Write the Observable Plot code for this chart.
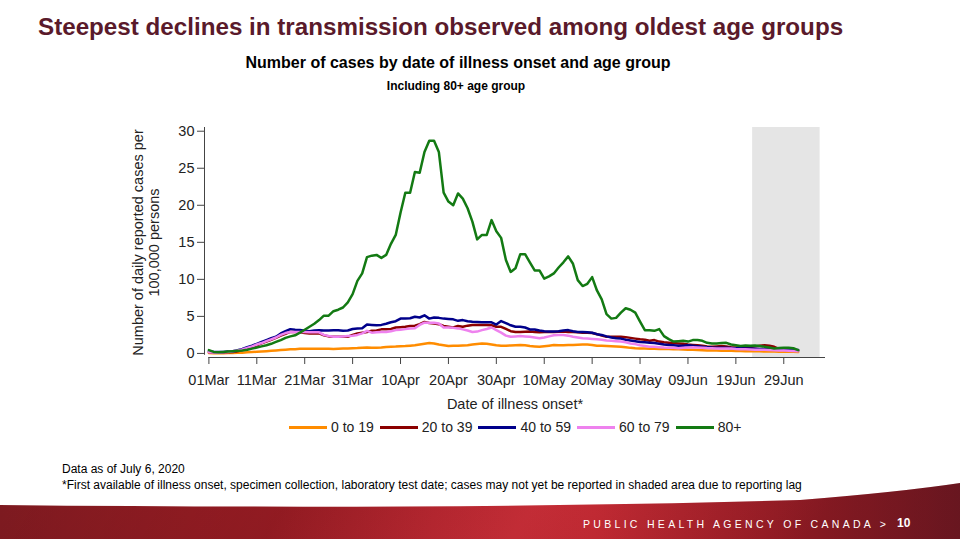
<!DOCTYPE html>
<html>
<head>
<meta charset="utf-8">
<script src="https://cdn.jsdelivr.net/npm/d3@7"></script>
<script src="https://cdn.jsdelivr.net/npm/@observablehq/plot@0.6"></script>
<style>
  html, body { margin: 0; padding: 0; background: #fff; }
  #page { position: relative; width: 960px; height: 539px; overflow: hidden; font-family: "Liberation Sans", Arial, sans-serif; }
  #chart { position: absolute; left: 0; top: 0; }
  .abs { position: absolute; white-space: nowrap; }
  #title { left: 38px; top: 13px; font-size: 24.2px; font-weight: bold; color: #5a1a2b; }
  #subtitle { left: 0; width: 916px; text-align: center; top: 54px; font-size: 16px; font-weight: bold; color: #000; }
  #subsub { left: 0; width: 912px; text-align: center; top: 79px; font-size: 12px; font-weight: bold; color: #000; }
  #legend { top: 419px; left: 289px; display: flex; align-items: center; font-size: 14px; color: #222; }
  #legend .item { display: flex; align-items: center; margin-right: 6px; }
  #legend .sw { width: 38px; height: 3px; margin-right: 4px; }
  .note { left: 62px; font-size: 12px; color: #000; }
  #banner { left: 0; top: 480px; width: 960px; height: 59px;
    background: linear-gradient(90deg, #7e1a20 0%, #9a1d24 20%, #b8202a 45%, #c4222c 62%, #a81e28 80%, #7a1a25 100%);
    clip-path: path('M0,25 Q480,30 800,20 Q900,12 960,3 L960,59 L0,59 Z'); }
  #banner2 { left: 0; top: 480px; width: 960px; height: 59px;
    background: linear-gradient(120deg, rgba(0,0,0,0) 0%, rgba(0,0,0,0.12) 30%, rgba(255,255,255,0.05) 55%, rgba(0,0,0,0.15) 85%);
    clip-path: path('M0,25 Q480,30 800,20 Q900,12 960,3 L960,59 L0,59 Z'); }
  #agency { left: 583px; top: 518px; font-size: 10.5px; letter-spacing: 3.3px; color: #fff; }
  #pageno { left: 897px; top: 516px; font-size: 12px; font-weight: bold; color: #fff; }
</style>
</head>
<body>
<div id="page">
  <div id="chart"></div>
  <div id="title" class="abs"></div>
  <div id="subtitle" class="abs"></div>
  <div id="subsub" class="abs"></div>
  <div id="legend" class="abs"></div>
  <div id="note1" class="abs note" style="top:462px"></div>
  <div id="note2" class="abs note" style="top:478px"></div>
  <div id="banner" class="abs"></div>
  <div id="banner2" class="abs"></div>
  <div id="agency" class="abs"></div>
  <div id="pageno" class="abs"></div>
</div>
<script>
// ---- Text ----
const titleText = "Steepest declines in transmission observed among oldest age groups";
const subtitleText = "Number of cases by date of illness onset and age group";
const subsubText = "Including 80+ age group";
const yLabel = "Number of daily reported cases per\n100,000 persons";
const xLabel = "Date of illness onset*";
const note1 = "Data as of July 6, 2020";
const note2 = "*First available of illness onset, specimen collection, laboratory test date; cases may not yet be reported in shaded area due to reporting lag";
const agencyText = "PUBLIC HEALTH AGENCY OF CANADA >";
const pageNumber = "10";

// ---- Categories ----
const groups = ["0 to 19", "20 to 39", "40 to 59", "60 to 79", "80+"];
const groupColors = ["#ff8c00", "#8b0000", "#00008b", "#ee82ee", "#137a13"];

// ---- Dates: daily from 01Mar2020 (index 0) ----
const firstDate = "2020-03-01";
const tickDates = ["2020-03-01","2020-03-11","2020-03-21","2020-03-31","2020-04-10","2020-04-20","2020-04-30","2020-05-10","2020-05-20","2020-05-30","2020-06-09","2020-06-19","2020-06-29"];
const shadedStart = "2020-06-22T12:00";
const shadedEnd = "2020-07-06T14:00";
const xDomain = ["2020-02-29T02:00", "2020-07-07T17:00"];
const yTicks = [0, 5, 10, 15, 20, 25, 30];

// ---- Series values (cases per 100,000, daily) ----
const age0to19 = [
  0.05, 0.03, 0.03, 0.04, 0.05,
  0.06, 0.08, 0.10, 0.15, 0.18,
  0.22, 0.26, 0.30, 0.35, 0.40,
  0.45, 0.50, 0.55, 0.58, 0.62,
  0.62, 0.63, 0.62, 0.64, 0.63,
  0.62, 0.60, 0.62, 0.65, 0.67,
  0.70, 0.72, 0.78, 0.80, 0.76,
  0.75, 0.80, 0.88, 0.90, 0.92,
  0.98, 1.00, 1.05, 1.10, 1.20,
  1.30, 1.40, 1.35, 1.20, 1.10,
  1.00, 1.02, 1.05, 1.08, 1.10,
  1.20, 1.28, 1.35, 1.30, 1.20,
  1.10, 1.05, 1.04, 1.08, 1.10,
  1.13, 1.10, 1.00, 0.95, 0.90,
  0.98, 1.05, 1.13, 1.12, 1.10,
  1.13, 1.15, 1.18, 1.20, 1.20,
  1.15, 1.05, 1.02, 1.00, 0.98,
  0.95, 0.90, 0.82, 0.75, 0.70,
  0.68, 0.66, 0.64, 0.62, 0.60,
  0.60, 0.60, 0.58, 0.55, 0.52,
  0.50, 0.48, 0.45, 0.42, 0.40,
  0.40, 0.38, 0.36, 0.35, 0.35,
  0.33, 0.32, 0.30, 0.30, 0.28,
  0.28, 0.26, 0.25, 0.25, 0.24,
  0.24, 0.22, 0.22, 0.20
];
const age20to39 = [
  0.15, 0.12, 0.12, 0.14, 0.16,
  0.20, 0.30, 0.45, 0.65, 0.85,
  1.10, 1.35, 1.60, 1.85, 2.10,
  2.40, 2.65, 2.90, 2.88, 2.85,
  2.75, 2.70, 2.70, 2.70, 2.45,
  2.30, 2.25, 2.25, 2.25, 2.25,
  2.50, 2.70, 2.80, 2.90, 3.05,
  3.10, 3.25, 3.25, 3.30, 3.50,
  3.55, 3.60, 3.70, 3.75, 3.95,
  4.25, 4.10, 4.05, 3.95, 3.70,
  3.60, 3.50, 3.70, 3.60, 3.75,
  3.85, 3.85, 3.85, 3.85, 3.80,
  3.60, 3.60, 3.30, 3.00, 2.90,
  2.90, 2.92, 2.95, 2.90, 2.85,
  2.88, 2.90, 2.90, 2.92, 2.95,
  2.90, 2.88, 2.85, 2.80, 2.80,
  2.75, 2.60, 2.40, 2.25, 2.25,
  2.25, 2.25, 2.20, 2.10, 2.00,
  1.90, 1.85, 1.70, 1.80, 1.60,
  1.50, 1.45, 1.40, 1.35, 1.30,
  1.20, 1.15, 1.10, 1.05, 0.95,
  0.90, 0.95, 1.00, 0.95, 0.85,
  0.80, 0.80, 0.80, 0.85, 0.95,
  1.05, 1.10, 1.05, 0.90, 0.60,
  0.50, 0.45, 0.42, 0.35
];
const age40to59 = [
  0.30, 0.20, 0.18, 0.20, 0.25,
  0.30, 0.45, 0.60, 0.85, 1.05,
  1.30, 1.55, 1.80, 2.05, 2.25,
  2.70, 3.00, 3.28, 3.20, 3.15,
  3.05, 3.00, 3.10, 3.14, 3.10,
  3.10, 3.12, 3.14, 3.05, 3.10,
  3.30, 3.37, 3.40, 3.90, 3.85,
  3.80, 3.85, 4.00, 4.20, 4.35,
  4.70, 4.70, 4.75, 4.95, 4.85,
  5.15, 4.70, 4.85, 4.80, 4.70,
  4.65, 4.60, 4.40, 4.50, 4.35,
  4.28, 4.25, 4.22, 4.20, 4.20,
  3.90, 4.37, 4.10, 3.80, 3.60,
  3.60, 3.50, 3.24, 3.24, 3.10,
  3.00, 2.95, 2.95, 3.00, 3.10,
  3.15, 3.00, 2.90, 2.88, 2.85,
  2.80, 2.60, 2.50, 2.30, 2.15,
  2.05, 2.00, 1.85, 1.75, 1.65,
  1.55, 1.50, 1.45, 1.40, 1.30,
  1.20, 1.15, 1.10, 1.05, 1.05,
  1.10, 1.05, 0.98, 0.90, 0.85,
  0.80, 0.78, 0.76, 0.75, 0.72,
  0.70, 0.70, 0.67, 0.65, 0.62,
  0.60, 0.58, 0.55, 0.52, 0.50,
  0.48, 0.47, 0.46, 0.45
];
const age60to79 = [
  0.15, 0.12, 0.12, 0.15, 0.20,
  0.28, 0.40, 0.55, 0.75, 0.95,
  1.20, 1.40, 1.65, 1.90, 2.15,
  2.50, 2.75, 2.90, 2.90, 2.90,
  2.88, 2.85, 2.85, 2.85, 2.50,
  2.35, 2.25, 2.25, 2.30, 2.35,
  2.40, 2.50, 2.70, 3.05, 2.80,
  2.85, 2.90, 2.90, 3.00, 3.15,
  3.20, 3.28, 3.35, 3.40, 3.85,
  4.15, 4.15, 4.15, 4.05, 3.50,
  3.50, 3.45, 3.38, 3.25, 3.10,
  2.90, 2.95, 3.15, 3.30, 3.50,
  3.15, 2.80, 2.40, 2.25, 2.30,
  2.35, 2.30, 2.25, 2.15, 2.05,
  2.16, 2.30, 2.45, 2.48, 2.48,
  2.40, 2.25, 2.16, 2.05, 2.00,
  1.95, 1.90, 1.85, 1.75, 1.70,
  1.65, 1.60, 1.50, 1.35, 1.26,
  1.10, 1.00, 0.90, 0.90, 0.85,
  0.80, 0.77, 0.75, 0.70, 0.75,
  0.80, 0.85, 0.80, 0.76, 0.72,
  0.70, 0.68, 0.67, 0.66, 0.65,
  0.60, 0.57, 0.55, 0.52, 0.50,
  0.50, 0.48, 0.45, 0.42, 0.40,
  0.38, 0.35, 0.32, 0.30
];
const age80plus = [
  0.45, 0.20, 0.15, 0.20, 0.25,
  0.30, 0.35, 0.40, 0.50, 0.65,
  0.80, 0.95, 1.10, 1.30, 1.55,
  1.80, 2.10, 2.30, 2.45, 2.80,
  3.20, 3.60, 4.00, 4.50, 5.10,
  5.10, 5.70, 5.90, 6.20, 6.90,
  8.00, 9.80, 10.80, 13.00, 13.20,
  13.30, 12.90, 13.30, 14.80, 16.00,
  19.00, 21.70, 21.70, 24.50, 24.40,
  27.20, 28.70, 28.70, 27.20, 21.70,
  20.50, 20.00, 21.60, 20.90, 19.60,
  17.80, 15.40, 16.00, 16.00, 18.00,
  16.50, 15.60, 12.60, 11.00, 11.50,
  13.40, 13.40, 12.30, 11.20, 11.20,
  10.10, 10.40, 10.80, 11.60, 12.30,
  13.10, 12.10, 9.90, 9.10, 9.40,
  10.30, 8.50, 7.30, 5.30, 4.70,
  4.80, 5.50, 6.10, 5.90, 5.50,
  4.30, 3.14, 3.14, 3.05, 3.28,
  2.33, 1.93, 1.60, 1.65, 1.70,
  1.60, 1.80, 1.80, 1.70, 1.43,
  1.35, 1.35, 1.40, 1.43, 1.20,
  1.10, 1.00, 1.07, 1.05, 1.07,
  1.00, 0.90, 0.80, 0.67, 0.72,
  0.76, 0.76, 0.70, 0.45
];

const seriesValues = [age0to19, age20to39, age40to59, age60to79, age80plus];
const start = new Date(firstDate + "T00:00Z");
const rows = [];
groups.forEach((g, gi) => {
  seriesValues[gi].forEach((v, i) => {
    rows.push({date: d3.utcDay.offset(start, i), value: v, group: g});
  });
});
const toDate = s => new Date(s + (s.length === 10 ? "T00:00Z" : "Z"));
const ticks = tickDates.map(toDate);
const fmt = d3.utcFormat("%d%b");

const chart = Plot.plot({
  width: 960,
  height: 539,
  marginLeft: 204,
  marginRight: 135,
  marginTop: 127,
  marginBottom: 182,
  style: {fontFamily: "'Liberation Sans', Arial, sans-serif", fontSize: "14.5px", color: "#222", background: "transparent"},
  x: {type: "utc", domain: xDomain.map(toDate)},
  y: {domain: [-0.55, 30.5]},
  color: {domain: groups, range: groupColors},
  marks: [
    Plot.rect([{x1: toDate(shadedStart), x2: toDate(shadedEnd)}], {x1: "x1", x2: "x2", fill: "#e5e5e5"}),
    Plot.ruleX([xDomain[0]].map(toDate), {y1: -0.25, y2: 30.5, stroke: "#444", strokeWidth: 1}),
    Plot.ruleY([-0.55], {x1: ticks[0], x2: toDate(xDomain[1]), stroke: "#444", strokeWidth: 1}),
    Plot.axisX({ticks: ticks, tickFormat: fmt, tickSize: 7, tickPadding: 10, label: null, stroke: "#444", fontSize: 14.5, color: "#222"}),
    Plot.axisY({ticks: yTicks, tickSize: 7, tickPadding: 3, label: null, stroke: "#444", fontSize: 14.5}),
    Plot.line(rows, {x: "date", y: "value", z: "group", stroke: "group", strokeWidth: 2.5, strokeLinejoin: "round"}),
    Plot.text([yLabel], {text: d => d, frameAnchor: "left", rotate: -90, dx: -59, textAnchor: "middle", lineAnchor: "middle", fontSize: 14.5, lineHeight: 1.15, fill: "#222"}),
    Plot.text([xLabel], {text: d => d, frameAnchor: "bottom", dy: 51, fontSize: 14.5, fill: "#222"})
  ]
});
document.getElementById("chart").appendChild(chart);

document.getElementById("title").textContent = titleText;
document.getElementById("subtitle").textContent = subtitleText;
document.getElementById("subsub").textContent = subsubText;
document.getElementById("note1").textContent = note1;
document.getElementById("note2").textContent = note2;
document.getElementById("agency").textContent = agencyText;
document.getElementById("pageno").textContent = pageNumber;

const legend = document.getElementById("legend");
groups.forEach((g, i) => {
  const item = document.createElement("div");
  item.className = "item";
  const sw = document.createElement("div");
  sw.className = "sw";
  sw.style.background = groupColors[i];
  const lab = document.createElement("span");
  lab.textContent = g;
  item.appendChild(sw);
  item.appendChild(lab);
  legend.appendChild(item);
});
</script>
</body>
</html>
